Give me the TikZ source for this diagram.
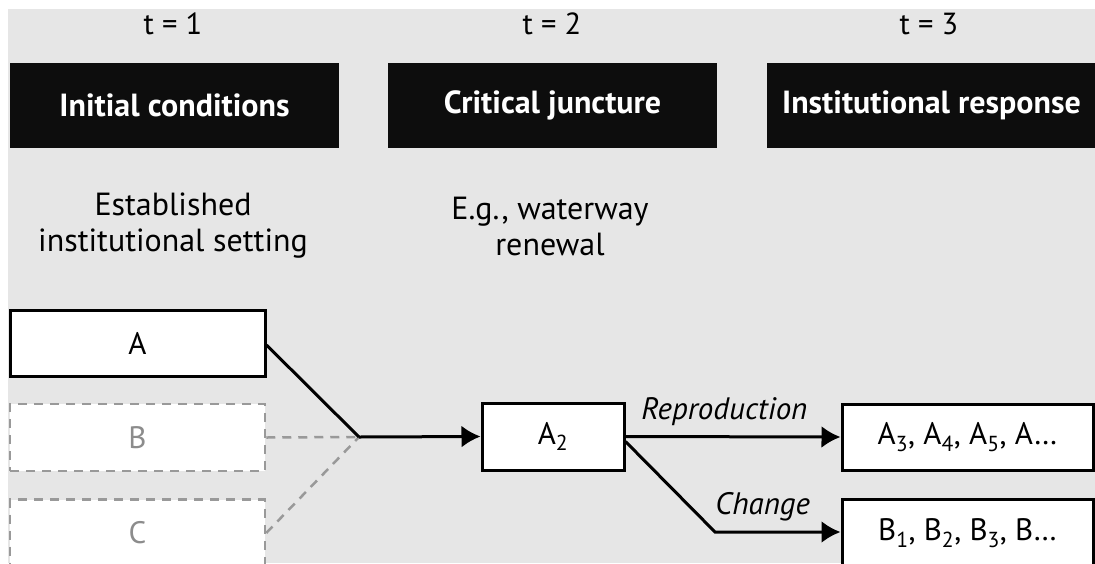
\documentclass[tikz,border=0pt]{standalone}
\usepackage{fontspec}
\setmainfont[Numbers=Lining]{PT Sans}
\usetikzlibrary{arrows.meta,calc}
\definecolor{bggray}{HTML}{E6E6E6}
\definecolor{hdrblack}{HTML}{0D0D0D}
\definecolor{dashgray}{HTML}{999999}
\definecolor{txtgray}{HTML}{8C8C8C}
\tikzset{
  header/.style={fill=hdrblack, text=white, minimum width=329pt, minimum height=85pt, inner sep=0pt,
    font=\fontsize{32}{36}\selectfont\bfseries},
  tlabel/.style={font=\fontsize{30.5}{34}\selectfont, inner sep=0pt},
  desc/.style={font=\fontsize{32}{36}\selectfont, align=center, inner sep=0pt},
  solidbox/.style={draw=black, line width=3pt, fill=white, minimum width=255pt, minimum height=66pt,
    inner sep=0pt, font=\fontsize{31}{34}\selectfont},
  ghostbox/.style={draw=dashgray, line width=2.5pt, dash pattern=on 9pt off 7pt, fill=white,
    minimum width=255pt, minimum height=67pt, inner sep=0pt, text=txtgray, font=\fontsize{31}{34}\selectfont},
  resultbox/.style={draw=black, line width=3pt, fill=white, minimum width=251pt, minimum height=66pt,
    inner sep=0pt, font=\fontsize{31}{34}\selectfont},
  conn/.style={draw=black, line width=3pt},
  ghostconn/.style={draw=dashgray, line width=2.5pt, dash pattern=on 9pt off 7pt},
  arr/.style={-{Latex[length=19pt,width=22pt]}},
  pathlabel/.style={font=\fontsize{31}{34}\selectfont\itshape, inner sep=0pt}
}
\newcommand{\sbs}[1]{\textsubscript{#1}}
\begin{document}
\begin{tikzpicture}[x=1pt,y=-1pt]
\useasboundingbox (0,0) rectangle (1095,563);
\clip (0,0) rectangle (1095,563);
\fill[bggray] (8,9) rectangle (1095,563);
% time labels
\node[tlabel] (t1) at (173,24) {t = 1};
\node[tlabel] (t2) at (552,24) {t = 2};
\node[tlabel] (t3) at (929,24) {t = 3};
% headers
\node[header] (h1) at (174.5,105.5) {Initial conditions};
\node[header] (h2) at (552.5,105.5) {Critical juncture};
\node[header] (h3) at (931.5,105.5) {Institutional response};
% descriptions
\node[desc] (d1) at (173,226) {Established\\institutional setting};
\node[desc] (d2) at (550,226) {E.g., waterway\\renewal};
% boxes
\node[solidbox] (A) at (137.5,343) {A};
\node[ghostbox] (B) at (137.5,437.5) {B};
\node[ghostbox] (C) at (137.5,533) {C};
\node[solidbox, minimum width=142pt, minimum height=67pt] (A2) at (553,436.5) {A\sbs{2}};
\node[resultbox] (R1) at (967.5,437) {A\sbs{3}, A\sbs{4}, A\sbs{5}, A…};
\node[resultbox, minimum height=68pt] (R2) at (967.5,533) {B\sbs{1}, B\sbs{2}, B\sbs{3}, B…};
% junction
\coordinate (M) at (359,437);
\coordinate (K) at (715,532);
\draw[ghostconn] (B.east) -- (M);
\draw[ghostconn] (C.east) -- (M);
\draw[conn] ([yshift=-2pt]A.east) -- (M);
\draw[conn,arr] (M) -- (A2.west);
\draw[conn,arr] (A2.east) -- node[pathlabel, above=10pt, pos=0.46] (lr) {Reproduction} (R1.west);
\draw[conn,arr] ([yshift=-5pt]A2.east) -- (K) -- node[pathlabel, above=9pt, pos=0.38] (lc) {Change} (R2.west |- K);
\end{tikzpicture}
\end{document}
